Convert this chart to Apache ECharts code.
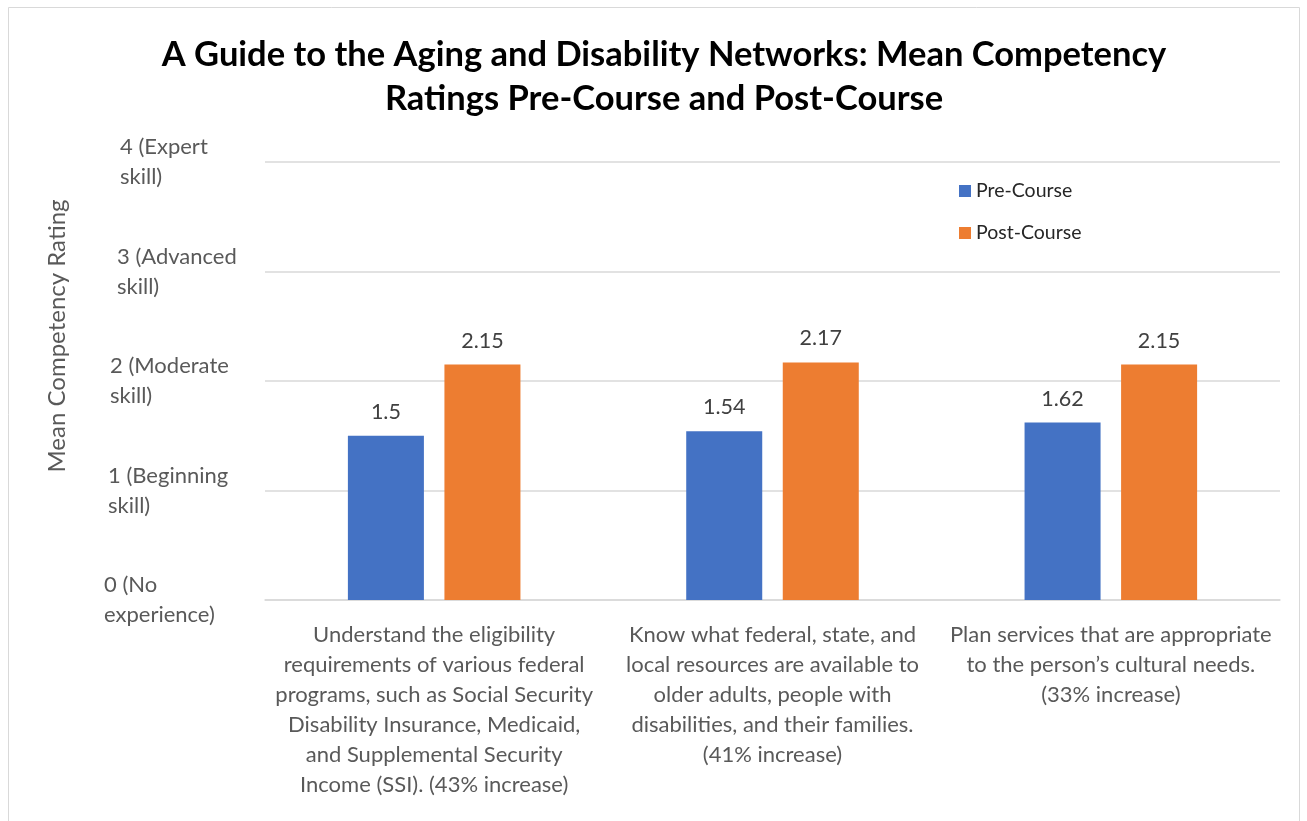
<!DOCTYPE html>
<html>
<head>
<meta charset="utf-8">
<script src="https://cdn.jsdelivr.net/npm/echarts@6/dist/echarts.min.js"></script>
<style>
html,body{margin:0;padding:0;background:#fff;}
#chart{width:1307px;height:821px;}
</style>
</head>
<body>
<div id="chart"></div>
<script>
var categories = [
  "Understand the eligibility\nrequirements of various federal\nprograms, such as Social Security\nDisability Insurance, Medicaid,\nand Supplemental Security\nIncome (SSI). (43% increase)",
  "Know what federal, state, and\nlocal resources are available to\nolder adults, people with\ndisabilities, and their families.\n(41% increase)",
  "Plan services that are appropriate\nto the person\u2019s cultural needs.\n(33% increase)"
];
var preCourse = [1.5, 1.54, 1.62];
var postCourse = [2.15, 2.17, 2.15];
var yTickLabels = ["0 (No\nexperience)", "1 (Beginning\nskill)", "2 (Moderate\nskill)", "3 (Advanced\nskill)", "4 (Expert\nskill)"];
var seriesNames = ["Pre-Course", "Post-Course"];

var FONT = 'Lato, "Open Sans", sans-serif';
var labelIndent = [0, 4, 6, 13, 16];
var richStyles = {};
labelIndent.forEach(function (p, i) {
  richStyles['t' + i] = {fontFamily: FONT, fontSize: 22, lineHeight: 30, color: '#595959', padding: [0, 0, 0, p]};
});

var chart = echarts.init(document.getElementById('chart'));
chart.setOption({
  animation: false,
  backgroundColor: '#fff',
  graphic: [{
    type: 'rect',
    shape: {x: 8.5, y: 7.5, width: 1291, height: 830},
    style: {fill: 'none', stroke: '#d9d9d9', lineWidth: 1}
  }],
  title: {
    text: 'A Guide to the Aging and Disability Networks: Mean Competency\nRatings Pre-Course and Post-Course',
    left: 659, top: 28, textAlign: 'center',
    textStyle: {fontFamily: FONT, fontWeight: 'bold', fontSize: 34.5, color: '#000', lineHeight: 44}
  },
  legend: {
    orient: 'vertical',
    left: 954, top: 176,
    itemWidth: 12, itemHeight: 12, itemGap: 22,
    icon: 'rect',
    textStyle: {fontFamily: FONT, fontSize: 19.5, color: '#262626'},
    data: seriesNames
  },
  grid: {left: 265, right: 27, top: 162, bottom: 221, containLabel: false},
  xAxis: {
    type: 'category',
    data: categories,
    axisLine: {lineStyle: {color: '#d9d9d9', width: 1.5}},
    axisTick: {show: false},
    axisLabel: {interval: 0, margin: 20, fontFamily: FONT, fontSize: 22, lineHeight: 30, color: '#595959'}
  },
  yAxis: {
    type: 'value', min: 0, max: 4, interval: 1,
    name: 'Mean Competency Rating',
    nameLocation: 'middle', nameGap: 196, nameRotate: 90,
    nameTextStyle: {fontFamily: FONT, fontSize: 24, color: '#595959', padding: [0, 0, 0, 90]},
    axisLine: {show: false}, axisTick: {show: false},
    splitLine: {lineStyle: {color: '#d9d9d9', width: 1.5}},
    axisLabel: {
      align: 'left', margin: 161,
      fontFamily: FONT, fontSize: 22, lineHeight: 30, color: '#595959',
      formatter: function (v) {
        return yTickLabels[v].split('\n').map(function (s) { return '{t' + v + '|' + s + '}'; }).join('\n');
      },
      rich: richStyles
    }
  },
  series: [
    {
      name: seriesNames[0], type: 'bar', data: preCourse,
      barGap: '27%', barCategoryGap: '49%',
      itemStyle: {color: '#4472C4'},
      label: {show: true, position: 'top', distance: 13, fontFamily: FONT, fontSize: 21.5, color: '#404040'}
    },
    {
      name: seriesNames[1], type: 'bar', data: postCourse,
      itemStyle: {color: '#ED7D31'},
      label: {show: true, position: 'top', distance: 13, fontFamily: FONT, fontSize: 21.5, color: '#404040'}
    }
  ]
});
</script>
</body>
</html>
